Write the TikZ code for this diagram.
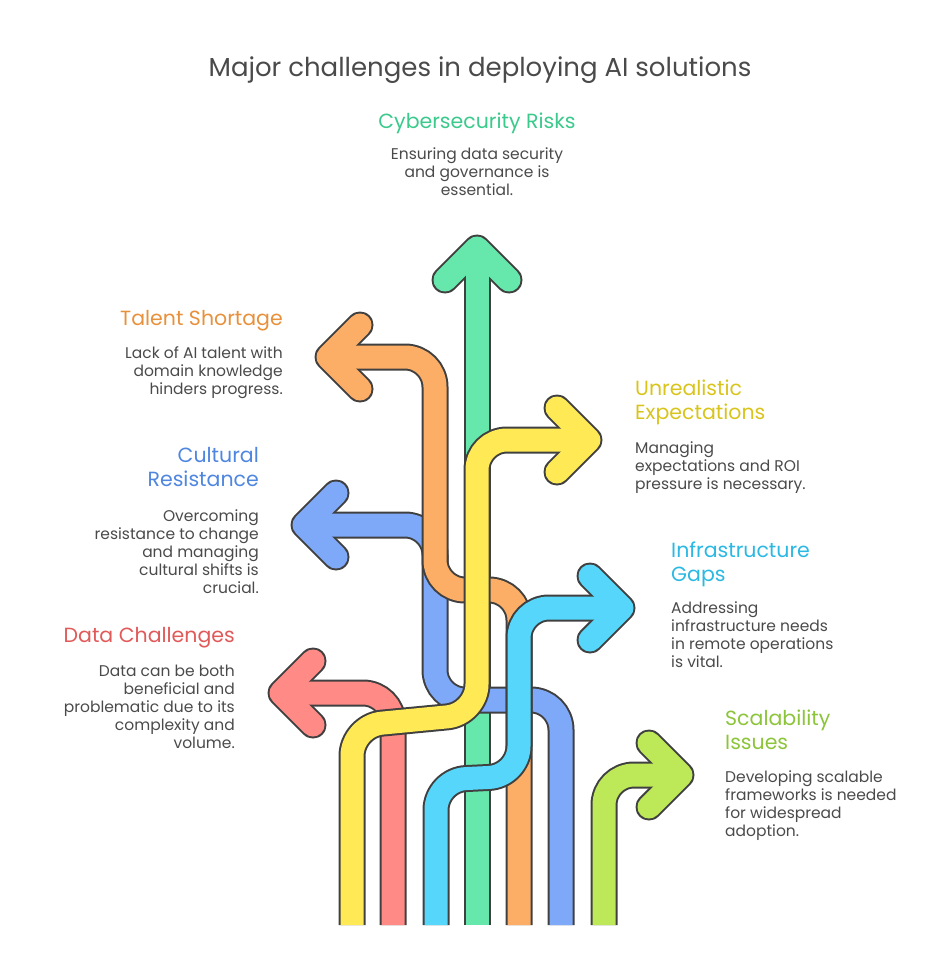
\documentclass[tikz,border=0pt]{standalone}
\usepackage{fontspec}
\setmainfont{Poppins}
\usepackage{xcolor}
\usepackage{tikz}

\definecolor{edge}{HTML}{404040}
\definecolor{ink}{HTML}{4A4A4A}
\definecolor{cgreen}{HTML}{66E8AC}
\definecolor{corange}{HTML}{FCAE66}
\definecolor{cyellow}{HTML}{FFEA55}
\definecolor{cblue}{HTML}{7EA8F8}
\definecolor{cred}{HTML}{FF8A86}
\definecolor{ccyan}{HTML}{55D6FA}
\definecolor{clime}{HTML}{BDE858}
\definecolor{tgreen}{HTML}{3CC98C}
\definecolor{torange}{HTML}{E8913C}
\definecolor{tyellow}{HTML}{D9C41C}
\definecolor{tblue}{HTML}{4F86E0}
\definecolor{tred}{HTML}{E05A5A}
\definecolor{tcyan}{HTML}{2BB8E3}
\definecolor{tlime}{HTML}{8CC43A}

\newcommand{\band}[3]{%
  \draw[line width=27pt, draw=edge, rounded corners=30pt] #2;
  \draw[line width=27pt, draw=edge, line cap=round, line join=round] #3;
  \draw[line width=23pt, draw=#1, rounded corners=30pt] #2;
  \draw[line width=23pt, draw=#1, line cap=round, line join=round] #3;
}

\begin{document}
\begin{tikzpicture}[x=1pt, y=-1pt,
  head/.style={font=\fontsize{20.5}{24}\selectfont, inner sep=0pt},
  body/.style={font=\fontsize{15.5}{18}\selectfont, text=ink, inner sep=0pt}]

\useasboundingbox (0,0) rectangle (944,973);

% Title
\node[font=\fontsize{26}{30}\selectfont, text=ink] (title) at (480,70) {Major challenges in deploying AI solutions};

% Bands
\band{cgreen}{(477,925) -- (477,248)}{(445,280) -- (477,248) -- (509,280)}
\band{cblue}{(561,925) -- (561,700) -- (435,700) -- (435,525) -- (304,525)}{(336,493) -- (304,525) -- (336,557)}
\band{corange}{(519,925) -- (519,590) -- (435,590) -- (435,357) -- (328,357)}{(360,325) -- (328,357) -- (360,389)}
\band{cred}{(393,925) -- (393,693) -- (281,693)}{(313,661) -- (281,693) -- (313,725)}
\band{clime}{(604,925) -- (604,775) -- (681,775)}{(649,743) -- (681,775) -- (649,807)}
\band{ccyan}{(436,925) -- (436,780) -- (519,776) -- (519,608) -- (622,608)}{(590,576) -- (622,608) -- (590,640)}
\band{cyellow}{(352,925) -- (352,726) -- (477,714) -- (477,440) -- (589,440)}{(557,408) -- (589,440) -- (557,472)}

% Labels
\node[head, text=tgreen] (cyber) at (477,123) {Cybersecurity Risks};
\node[body, align=center, anchor=north] (cybertxt) at (477,148) {Ensuring data security\\and governance is\\essential.};

\node[head, text=torange, anchor=east] (talent) at (283,321) {Talent Shortage};
\node[body, align=right, anchor=north east] (talenttxt) at (283,346) {Lack of AI talent with\\domain knowledge\\hinders progress.};

\node[head, text=tyellow, align=left, anchor=north west] (unreal) at (635,380) {Unrealistic\\Expectations};
\node[body, align=left, anchor=north west] (unrealtxt) at (635,442) {Managing\\expectations and ROI\\pressure is necessary.};

\node[head, text=tblue, align=right, anchor=north east] (cultural) at (259,447) {Cultural\\Resistance};
\node[body, align=right, anchor=north east] (culturaltxt) at (259,509) {Overcoming\\resistance to change\\and managing\\cultural shifts is\\crucial.};

\node[head, text=tcyan, align=left, anchor=north west] (infra) at (671,542) {Infrastructure\\Gaps};
\node[body, align=left, anchor=north west] (infratxt) at (671,601) {Addressing\\infrastructure needs\\in remote operations\\is vital.};

\node[head, text=tred, anchor=east] (data) at (235,638) {Data Challenges};
\node[body, align=right, anchor=north east] (datatxt) at (235,665) {Data can be both\\beneficial and\\problematic due to its\\complexity and\\volume.};

\node[head, text=tlime, align=left, anchor=north west] (scale) at (725,710) {Scalability\\Issues};
\node[body, align=left, anchor=north west] (scaletxt) at (725,770) {Developing scalable\\frameworks is needed\\for widespread\\adoption.};

\end{tikzpicture}
\end{document}
